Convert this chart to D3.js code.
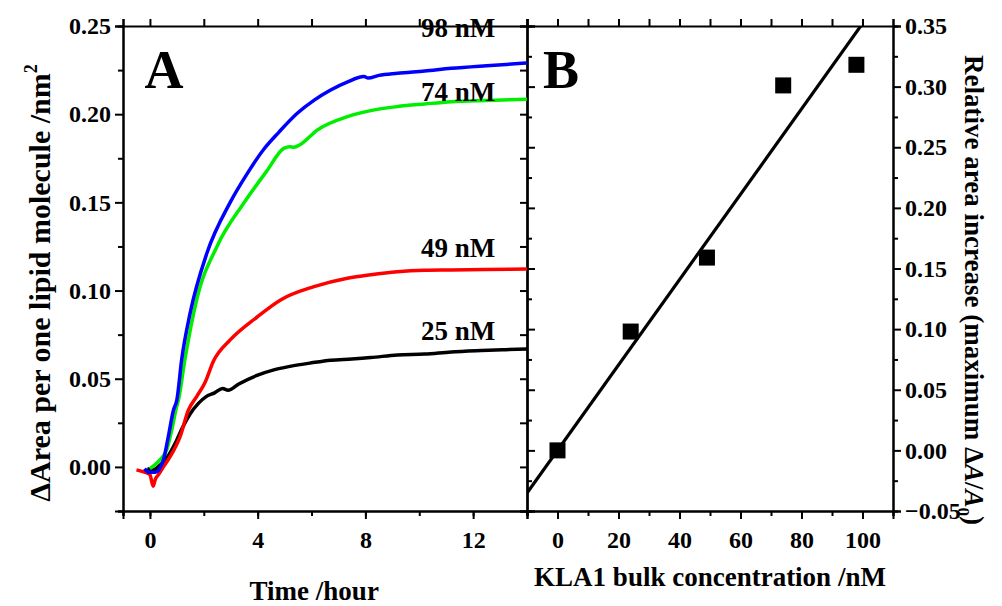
<!DOCTYPE html>
<html><head><meta charset="utf-8">
<script src="https://cdn.jsdelivr.net/npm/d3@7"></script>
<style>
html,body{margin:0;padding:0;background:#fff;}
svg{display:block;}
</style></head>
<body>
<svg id="chart" width="1002" height="606"></svg>
<script>
// ---------- DATA ----------
// Panel A: time (hour) and ΔArea per lipid (nm^2)
const t98 = [-0.2,-0.05,0.2,0.5,0.68,0.87,1.0,1.18,1.49,2.11,2.98,3.6,4.22,4.8,5.47,6.1,6.71,7.3,7.95,8.1,8.5,9.19,10.2,11.18,12.5,14.0];
const v98 = [-0.001,-0.003,-0.003,0.004,0.017,0.032,0.038,0.061,0.087,0.121,0.150,0.166,0.180,0.190,0.2005,0.208,0.2137,0.218,0.2213,0.2205,0.222,0.2232,0.2245,0.226,0.2275,0.229];
const t74 = [0,0.37,0.62,0.81,0.99,1.06,1.3,1.74,2.49,3.48,4.35,4.97,5.2,5.34,5.6,6.21,7.33,8.2,9.19,10.2,11.18,12.5,14.0];
const v74 = [-0.001,0.004,0.0096,0.021,0.034,0.038,0.061,0.095,0.125,0.1495,0.168,0.1806,0.1815,0.1812,0.183,0.191,0.1986,0.202,0.2043,0.2058,0.2071,0.2078,0.2084];
const t49 = [-0.5,-0.2,0,0.12,0.2,0.31,0.5,0.75,1.12,1.43,1.74,2.05,2.36,2.98,3.98,4.85,6.09,7.33,8.2,9.19,10.2,11.18,12.5,14.0];
const v49 = [-0.0017,-0.003,-0.0045,-0.011,-0.007,-0.0045,0.0,0.0058,0.0172,0.0323,0.040,0.048,0.060,0.072,0.085,0.0947,0.1022,0.107,0.109,0.1107,0.1115,0.1117,0.112,0.1122];
const t25 = [-0.1,0.12,0.3,0.62,0.99,1.2,1.49,1.8,2.1,2.4,2.7,2.9,3.3,4.0,4.6,5.2,6.0,6.71,7.5,8.2,9.19,10.2,11.18,12.3,13.2,14.0];
const v25 = [-0.001,-0.0017,0.0,0.005,0.015,0.022,0.030,0.036,0.040,0.042,0.0445,0.0435,0.047,0.052,0.055,0.057,0.059,0.0605,0.0612,0.062,0.0635,0.064,0.0652,0.066,0.0665,0.0669];
const seriesNames = ["25 nM","49 nM","74 nM","98 nM"];
const seriesColors = ["#000000","#ff0000","#00ee00","#0000ff"];
const labelV = [0.072,0.119,0.2075,0.2438];

// Panel B: concentration (nM) vs relative area increase
const concB = [0,24,49,74,98];
const relB = [0.0,0.098,0.159,0.301,0.318];
const fitSlope = 0.00352, fitIntercept = 0.0;

// ticks
const xTicksA = [0,4,8,12];
const xMinorA = [-1,0,2,4,6,8,10,12,14];
const yTicksA = [0.00,0.05,0.10,0.15,0.20,0.25];
const yMinorA = [-0.025,0.025,0.075,0.125,0.175,0.225];
const xTicksB = [0,20,40,60,80,100];
const xMinorB = [-10,10,30,50,70,90,110];
const yTicksB = [-0.05,0.00,0.05,0.10,0.15,0.20,0.25,0.30,0.35];
const yMinorB = [-0.025,0.025,0.075,0.125,0.175,0.225,0.275,0.325];

// ---------- LAYOUT ----------
const FONT = "'Liberation Serif', 'DejaVu Serif', serif";
const svg = d3.select("#chart").attr("font-family",FONT).attr("font-weight","bold");
svg.append("rect").attr("width",1002).attr("height",606).attr("fill","#fff");
const top_ = 26, bot = 511;
const xA = d3.scaleLinear().domain([-1,14]).range([123,527]);
const yA = d3.scaleLinear().domain([-0.025,0.25]).range([bot,top_]);
const xB = d3.scaleLinear().domain([-10,110]).range([527,893]);
const yB = d3.scaleLinear().domain([-0.05,0.35]).range([bot,top_]);
const fmt2 = d3.format(".2f");

function styleAxis(g){
  g.attr("font-family",FONT).attr("font-weight","bold").attr("font-size",24);
  g.select(".domain").attr("stroke","#000").attr("stroke-width",2);
  g.selectAll(".tick line").attr("stroke","#000").attr("stroke-width",2);
  g.selectAll(".tick text").attr("fill","#000");
}
function ax(gen, tr){ const g = svg.append("g").attr("transform",tr).call(gen); styleAxis(g); return g; }

// Panel A axes
ax(d3.axisLeft(yA).tickValues(yTicksA).tickFormat(fmt2).tickSize(8).tickPadding(4),`translate(${xA.range()[0]},0)`);
ax(d3.axisLeft(yA).tickValues(yMinorA).tickFormat("").tickSize(5),`translate(${xA.range()[0]},0)`);
ax(d3.axisBottom(xA).tickValues(xTicksA).tickFormat(d3.format("d")).tickSize(8).tickPadding(12),`translate(0,${bot})`);
ax(d3.axisBottom(xA).tickValues(xMinorA).tickFormat("").tickSize(5),`translate(0,${bot})`);
ax(d3.axisBottom(xA).tickValues(xMinorA).tickFormat("").tickSize(-7),`translate(0,${top_})`);
ax(d3.axisRight(yA).tickValues(yTicksA.concat(yMinorA)).tickFormat("").tickSize(-7),`translate(${xA.range()[1]},0)`);

// Panel B axes
ax(d3.axisLeft(yB).tickValues(yTicksB).tickFormat("").tickSize(-8),`translate(${xB.range()[0]},0)`);
ax(d3.axisLeft(yB).tickValues(yMinorB).tickFormat("").tickSize(-5),`translate(${xB.range()[0]},0)`);
ax(d3.axisBottom(xB).tickValues(xTicksB).tickFormat(d3.format("d")).tickSize(8).tickPadding(12),`translate(0,${bot})`);
ax(d3.axisBottom(xB).tickValues(xMinorB).tickFormat("").tickSize(5),`translate(0,${bot})`);
ax(d3.axisBottom(xB).tickValues(xTicksB.concat(xMinorB)).tickFormat("").tickSize(-7),`translate(0,${top_})`);
ax(d3.axisRight(yB).tickValues(yTicksB).tickFormat(fmt2).tickSize(8).tickPadding(4),`translate(${xB.range()[1]},0)`);
ax(d3.axisRight(yB).tickValues(yMinorB).tickFormat("").tickSize(5),`translate(${xB.range()[1]},0)`);

// clip paths
const defs = svg.append("defs");
defs.append("clipPath").attr("id","clipA").append("rect")
  .attr("x",xA.range()[0]).attr("y",top_).attr("width",xA.range()[1]-xA.range()[0]).attr("height",bot-top_);
defs.append("clipPath").attr("id","clipB").append("rect")
  .attr("x",xB.range()[0]).attr("y",top_).attr("width",xB.range()[1]-xB.range()[0]).attr("height",bot-top_);

// Panel A curves
const ts = [t25,t49,t74,t98], vs = [v25,v49,v74,v98];
const lineA = d3.line().x(d=>xA(d[0])).y(d=>yA(d[1])).curve(d3.curveMonotoneX);
const gA = svg.append("g").attr("clip-path","url(#clipA)");
ts.forEach((t,i)=>{
  const pts = t.map((x,j)=>[x,vs[i][j]]);
  gA.append("path").datum(pts).attr("d",lineA).attr("fill","none")
    .attr("stroke",seriesColors[i]).attr("stroke-width",3.5).attr("stroke-linejoin","round");
});
// series labels
seriesNames.forEach((n,i)=>{
  svg.append("text").attr("x",458).attr("y",yA(labelV[i])).attr("text-anchor","middle")
    .attr("font-size",27).text(n);
});

// Panel B: fit line and squares
const gB = svg.append("g").attr("clip-path","url(#clipB)");
const fitX = xB.domain();
gB.append("line")
  .attr("x1",xB(fitX[0])).attr("y1",yB(fitSlope*fitX[0]+fitIntercept))
  .attr("x2",xB(fitX[1])).attr("y2",yB(fitSlope*fitX[1]+fitIntercept))
  .attr("stroke","#000").attr("stroke-width",3.2);
const sq = 16;
svg.append("g").selectAll("rect").data(concB.map((c,i)=>[c,relB[i]])).join("rect")
  .attr("x",d=>xB(d[0])-sq/2).attr("y",d=>yB(d[1])-sq/2).attr("width",sq).attr("height",sq).attr("fill","#000");

// panel letters
svg.append("text").attr("x",164).attr("y",88).attr("text-anchor","middle").attr("font-size",54).text("A");
svg.append("text").attr("x",561).attr("y",88).attr("text-anchor","middle").attr("font-size",54).text("B");

// axis titles
svg.append("text").attr("x",xA(6.1)).attr("y",600).attr("text-anchor","middle").attr("font-size",27).text("Time /hour");
svg.append("text").attr("x",710).attr("y",586).attr("text-anchor","middle").attr("font-size",27).text("KLA1 bulk concentration /nM");
const ly = svg.append("text").attr("transform","translate(50,283) rotate(-90)").attr("text-anchor","middle").attr("font-size",30);
ly.append("tspan").text("ΔArea per one lipid molecule /nm");
ly.append("tspan").attr("dy",-13).attr("font-size",18).text("2");
const ry = svg.append("text").attr("transform","translate(965,290) rotate(90)").attr("text-anchor","middle").attr("font-size",27);
ry.append("tspan").text("Relative area increase (maximum Δ");
ry.append("tspan").attr("font-style","italic").text("A");
ry.append("tspan").text("/");
ry.append("tspan").attr("font-style","italic").text("A");
ry.append("tspan").attr("dy",7).attr("font-size",17).text("0");
ry.append("tspan").attr("dy",-7).text(")");
</script>
</body></html>
